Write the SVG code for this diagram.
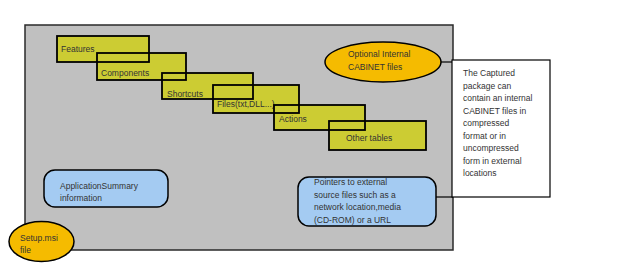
<svg xmlns="http://www.w3.org/2000/svg" width="640" height="271" viewBox="0 0 640 271">
<style>
.t{font-family:"Liberation Sans",Arial,sans-serif;font-size:8.5px;fill:#333}
.tb{fill:#cccc33;stroke:none}
.tbb{fill:none;stroke:#000;stroke-width:1.8}
.ell{fill:#f5bb00;stroke:#000;stroke-width:1.5}
.blue{fill:#a4cbf2;stroke:#000;stroke-width:1.5}
.ln{stroke:#000;stroke-width:1.2;fill:none}
</style>
<rect width="640" height="271" fill="#fff"/>
<g id="package">
<rect x="25" y="25" width="428" height="225" fill="#c0c0c0" stroke="#2a2a2a" stroke-width="1.5"/>
</g>
<g id="tables-fill">
<rect class="tb" x="57" y="36" width="92" height="26"/>
<rect class="tb" x="97" y="53" width="89" height="27"/>
<rect class="tb" x="162" y="73" width="91" height="26"/>
<rect class="tb" x="213" y="85" width="86" height="28"/>
<rect class="tb" x="274" y="105" width="91" height="25"/>
<rect class="tb" x="329" y="121" width="97" height="29"/>
</g>
<g id="features"><rect class="tbb" x="57" y="36" width="92" height="26"/><text class="t" x="61" y="52">Features</text></g>
<g id="components"><rect class="tbb" x="97" y="53" width="89" height="27"/><text class="t" x="101" y="76">Components</text></g>
<g id="shortcuts"><rect class="tbb" x="162" y="73" width="91" height="26"/><text class="t" x="167" y="97">Shortcuts</text></g>
<g id="files"><rect class="tbb" x="213" y="85" width="86" height="28"/><text class="t" x="217" y="107">Files(txt,DLL...)</text></g>
<g id="actions"><rect class="tbb" x="274" y="105" width="91" height="25"/><text class="t" x="279" y="122">Actions</text></g>
<g id="other-tables"><rect class="tbb" x="329" y="121" width="97" height="29"/><text class="t" x="346" y="141">Other tables</text></g>
<g id="connectors">
<line class="ln" x1="441" y1="62" x2="453" y2="62"/>
<line class="ln" x1="436" y1="197" x2="453" y2="197"/>
</g>
<g id="cabinet">
<ellipse class="ell" cx="383" cy="62" rx="58" ry="20"/>
<text class="t" x="348" y="57">Optional Internal</text>
<text class="t" x="348" y="70">CABINET files</text>
</g>
<g id="note">
<rect x="452" y="60" width="98" height="137" fill="#fff" stroke="#000" stroke-width="1.2"/>
<text class="t" font-size="9" x="463" y="76">The Captured</text>
<text class="t" font-size="9" x="463" y="88.5">package can</text>
<text class="t" font-size="9" x="463" y="101">contain an internal</text>
<text class="t" font-size="9" x="463" y="113.5">CABINET files in</text>
<text class="t" font-size="9" x="463" y="126">compressed</text>
<text class="t" font-size="9" x="463" y="138.5">format or in</text>
<text class="t" font-size="9" x="463" y="151">uncompressed</text>
<text class="t" font-size="9" x="463" y="163.5">form in external</text>
<text class="t" font-size="9" x="463" y="176">locations</text>
</g>
<g id="pointers">
<rect class="blue" x="298" y="177" width="138" height="49" rx="11"/>
<text class="t" x="314" y="185">Pointers to external</text>
<text class="t" x="314" y="197.5">source files such as a</text>
<text class="t" x="314" y="210">network location,media</text>
<text class="t" x="314" y="222.5">(CD-ROM) or a URL</text>
</g>
<g id="summary">
<rect class="blue" x="44" y="170" width="124" height="37" rx="11"/>
<text class="t" x="60" y="189">ApplicationSummary</text>
<text class="t" x="60" y="201">information</text>
</g>
<g id="setup">
<ellipse class="ell" cx="41.5" cy="241.5" rx="32.5" ry="20"/>
<text class="t" x="20" y="241">Setup.msi</text>
<text class="t" x="20" y="253">file</text>
</g>
</svg>
